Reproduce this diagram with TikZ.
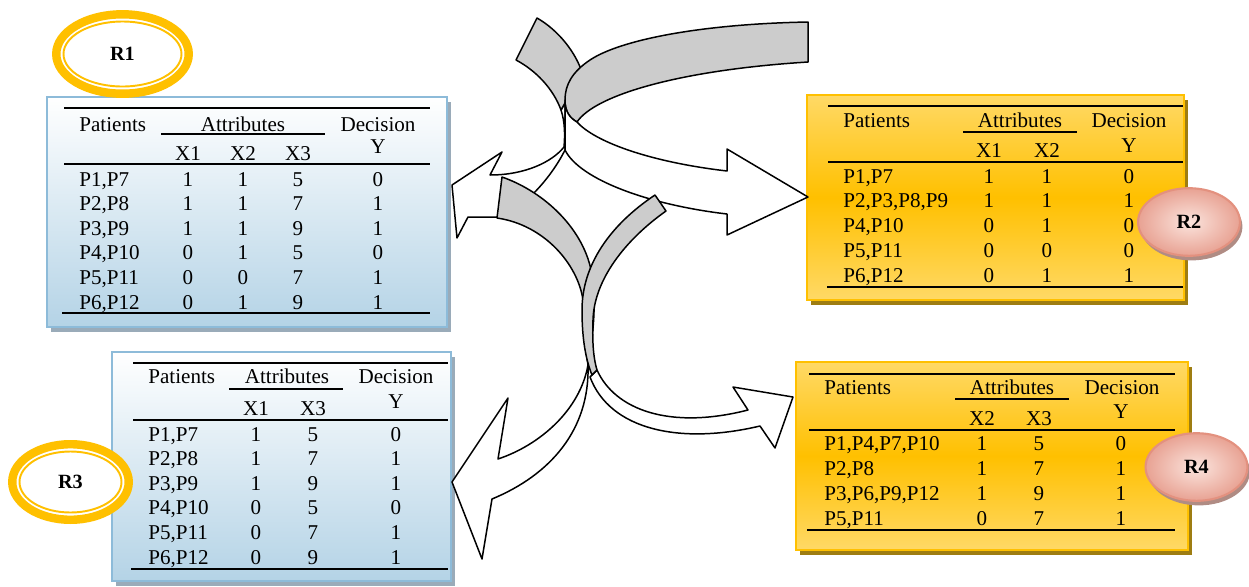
\documentclass[tikz,border=0pt]{standalone}
\usepackage{fontspec}
\setmainfont{Liberation Serif}
\usetikzlibrary{shapes.geometric,shadows}

\definecolor{boxblue}{HTML}{B4D3E6}
\definecolor{edgeblue}{HTML}{8DBBD9}
\definecolor{shadeblue}{HTML}{9AABB9}
\definecolor{goldlight}{HTML}{FFD966}
\definecolor{golddeep}{HTML}{FFC000}
\definecolor{goldshade}{HTML}{9E7D12}
\definecolor{pinkin}{HTML}{FBE4DD}
\definecolor{pinkout}{HTML}{E8A293}
\definecolor{pinkedge}{HTML}{E3917F}
\definecolor{pinkshade}{HTML}{B08C84}
\definecolor{bandgray}{HTML}{CCCCCC}

\begin{document}
\begin{tikzpicture}[
        x=0.02cm, y=-0.02cm,
        cell/.style={anchor=base, inner sep=0pt, font=\fontsize{12}{14}\selectfont},
        pcell/.style={cell, anchor=base west},
        tabrule/.style={line width=0.8pt},
        bluebox/.style={top color=white, bottom color=boxblue, draw=edgeblue, line width=1.3pt,
            drop shadow={shadow xshift=2.3pt, shadow yshift=-2.8pt, fill=shadeblue, opacity=1}},
        goldbox/.style={top color=goldlight, bottom color=goldlight, middle color=golddeep, draw=golddeep, line width=1.2pt,
            drop shadow={shadow xshift=2.3pt, shadow yshift=-2.8pt, fill=goldshade, opacity=1}},
        ring/.style={ellipse, draw=golddeep, line width=4.8pt, fill=white, inner sep=0pt,
            font=\bfseries\fontsize{11.5}{13}\selectfont},
        ringthin/.style={draw=golddeep, line width=1.1pt},
        pill/.style={ellipse, minimum width=58pt, minimum height=38.5pt, inner color=pinkin, outer color=pinkout,
            draw=pinkedge, line width=1.2pt, font=\bfseries\fontsize{11.5}{13}\selectfont,
            drop shadow={shadow xshift=1.4pt, shadow yshift=-2.6pt, fill=pinkshade, opacity=1}},
        band/.style={draw=black, line width=0.85pt, line join=round},
        back/.style={band, fill=bandgray},
        front/.style={band, fill=white},
    ]
    \useasboundingbox (0,0) rectangle (1249,586);

    % R1 table
    \path[bluebox] (47,97) rectangle (447,327);
    \draw[tabrule] (64,108) -- (430,108);
    \draw[tabrule] (161,134) -- (325,134);
    \draw[tabrule] (64,164) -- (430,164);
    \draw[tabrule] (62,313) -- (430,313);
    \node[pcell] (r1pat) at (79,131)  {Patients};
    \node[cell]  (r1att) at (243,131) {Attributes};
    \node[cell]  (r1dec) at (378,131) {Decision};
    \node[cell]  (r1y)   at (378,153) {Y};
    \node[cell]  (r1xa)  at (188,160) {X1};
    \node[cell]  (r1xb)  at (243,160) {X2};
    \node[cell]  (r1xc)  at (298,160) {X3};
    \foreach \pt/\va/\vb/\vc/\vy [count=\i] in {{P1,P7}/1/1/5/0,{P2,P8}/1/1/7/1,{P3,P9}/1/1/9/1,{P4,P10}/0/1/5/0,{P5,P11}/0/0/7/1,{P6,P12}/0/1/9/1}{
        \node[pcell] (r1p\i) at (79,{186+24.6*(\i-1)})  {\pt};
        \node[cell]  (r1a\i) at (188,{186+24.6*(\i-1)}) {\va};
        \node[cell]  (r1b\i) at (243,{186+24.6*(\i-1)}) {\vb};
        \node[cell]  (r1c\i) at (298,{186+24.6*(\i-1)}) {\vc};
        \node[cell]  (r1d\i) at (378,{186+24.6*(\i-1)}) {\vy};
    }

    % R2 table
    \path[goldbox] (807,95) rectangle (1184,300);
    \draw[tabrule] (828,106) -- (1183,106);
    \draw[tabrule] (963,132) -- (1077,132);
    \draw[tabrule] (828,162) -- (1183,162);
    \draw[tabrule] (827,287) -- (1183,287);
    \node[pcell] (r2pat) at (843,127)  {Patients};
    \node[cell]  (r2att) at (1020,127) {Attributes};
    \node[cell]  (r2dec) at (1129,127) {Decision};
    \node[cell]  (r2y)   at (1129,152) {Y};
    \node[cell]  (r2xa)  at (989,157)  {X1};
    \node[cell]  (r2xb)  at (1047,157) {X2};
    \foreach \pt/\va/\vb/\vy [count=\i] in {{P1,P7}/1/1/0,{P2,P3,P8,P9}/1/1/1,{P4,P10}/0/1/0,{P5,P11}/0/0/0,{P6,P12}/0/1/1}{
        \node[pcell] (r2p\i) at (843,{183+24.75*(\i-1)})  {\pt};
        \node[cell]  (r2a\i) at (989,{183+24.75*(\i-1)})  {\va};
        \node[cell]  (r2b\i) at (1047,{183+24.75*(\i-1)}) {\vb};
        \node[cell]  (r2d\i) at (1129,{183+24.75*(\i-1)}) {\vy};
    }

    % R3 table
    \path[bluebox] (112,352) rectangle (451,581);
    \draw[tabrule] (133,363) -- (448,363);
    \draw[tabrule] (229,389) -- (343,389);
    \draw[tabrule] (133,420) -- (448,420);
    \draw[tabrule] (131,569) -- (448,569);
    \node[pcell] (r3pat) at (148,383) {Patients};
    \node[cell]  (r3att) at (287,383) {Attributes};
    \node[cell]  (r3dec) at (396,383) {Decision};
    \node[cell]  (r3y)   at (396,408) {Y};
    \node[cell]  (r3xa)  at (256,415) {X1};
    \node[cell]  (r3xc)  at (313,415) {X3};
    \foreach \pt/\va/\vc/\vy [count=\i] in {{P1,P7}/1/5/0,{P2,P8}/1/7/1,{P3,P9}/1/9/1,{P4,P10}/0/5/0,{P5,P11}/0/7/1,{P6,P12}/0/9/1}{
        \node[pcell] (r3p\i) at (148,{441+24.6*(\i-1)}) {\pt};
        \node[cell]  (r3a\i) at (256,{441+24.6*(\i-1)}) {\va};
        \node[cell]  (r3c\i) at (313,{441+24.6*(\i-1)}) {\vc};
        \node[cell]  (r3d\i) at (396,{441+24.6*(\i-1)}) {\vy};
    }

    % R4 table
    \path[goldbox] (796,362) rectangle (1188,550);
    \draw[tabrule] (809,374) -- (1175,374);
    \draw[tabrule] (955,399) -- (1069,399);
    \draw[tabrule] (809,430) -- (1175,430);
    \draw[tabrule] (807,530) -- (1175,530);
    \node[pcell] (r4pat) at (824,394)  {Patients};
    \node[cell]  (r4att) at (1012,394) {Attributes};
    \node[cell]  (r4dec) at (1122,394) {Decision};
    \node[cell]  (r4y)   at (1121,418) {Y};
    \node[cell]  (r4xb)  at (982,425)  {X2};
    \node[cell]  (r4xc)  at (1039,425) {X3};
    \foreach \pt/\vb/\vc/\vy [count=\i] in {{P1,P4,P7,P10}/1/5/0,{P2,P8}/1/7/1,{P3,P6,P9,P12}/1/9/1,{P5,P11}/0/7/1}{
        \node[pcell] (r4p\i) at (824,{450.7+24.8*(\i-1)})  {\pt};
        \node[cell]  (r4b\i) at (982,{450.7+24.8*(\i-1)})  {\vb};
        \node[cell]  (r4c\i) at (1039,{450.7+24.8*(\i-1)}) {\vc};
        \node[cell]  (r4d\i) at (1121,{450.7+24.8*(\i-1)}) {\vy};
    }

    % labels
    \node[ring, minimum width=75.4pt, minimum height=45.2pt] (R1) at (122.5,54) {R1};
    \draw[ringthin] (R1.center) ellipse [x radius=59, y radius=32.5];
    \node[ring, minimum width=66.3pt, minimum height=43pt] (R3) at (70.5,482) {R3};
    \draw[ringthin] (R3.center) ellipse [x radius=51, y radius=30.5];
    \node[pill] (R2) at (1189,222) {R2};
    \node[pill] (R4) at (1196.5,467) {R4};

    % twisted band to R1
    \draw[front] (561,110) .. controls (565,122) and (565,135) .. (564,147)
        .. controls (552,162) and (525,175) .. (490,175)
        -- (502,152) -- (452,185) -- (457,238) -- (468,217) -- (497,217)
        .. controls (520,212) and (550,180) .. (565,150) -- (565,103) -- cycle;
    \draw[back] (537,18) .. controls (558,30) and (576,52) .. (583,75) -- (565,103) -- (561,110)
        .. controls (553,88) and (535,70) .. (516,60) -- cycle;

    % twisted band to R2
    \draw[back] (808,22) .. controls (700,24) and (620,40) .. (590,60)
        .. controls (572,72) and (565,85) .. (565,100)
        .. controls (565,112) and (570,118) .. (577,122)
        .. controls (595,95) and (680,70) .. (808,62) -- cycle;
    \draw[front] (577,122) .. controls (595,142) and (650,162) .. (727,171)
        -- (727,149) -- (808,197) -- (727,235) -- (727,214)
        .. controls (650,205) and (580,180) .. (565,150)
        -- (565,100) .. controls (565,112) and (570,118) .. (577,122) -- cycle;

    % bands to R3 and R4
    \draw[front] (588,365) .. controls (580,410) and (540,445) .. (498,459)
        -- (508,398) -- (452,482) -- (482,559) -- (492,499)
        .. controls (550,475) and (590,430) .. (588,365) -- cycle;
    \draw[front] (597,370) .. controls (615,410) and (670,430) .. (748,410)
        -- (733,387) -- (793,397) -- (775,448) -- (760,426)
        .. controls (680,445) and (610,430) .. (590,377) -- cycle;
    \draw[back] (502,177) .. controls (545,192) and (585,230) .. (592,275)
        .. controls (597,310) and (592,340) .. (588,365)
        .. controls (584,340) and (584,320) .. (583,300)
        .. controls (578,265) and (545,225) .. (497,218) -- cycle;
    \draw[back] (655,195) .. controls (610,225) and (582,265) .. (582,310)
        .. controls (582,340) and (586,360) .. (592,375) -- (597,370)
        .. controls (594,360) and (592,345) .. (593,320)
        .. controls (594,280) and (625,240) .. (666,211) -- cycle;
\end{tikzpicture}
\end{document}
